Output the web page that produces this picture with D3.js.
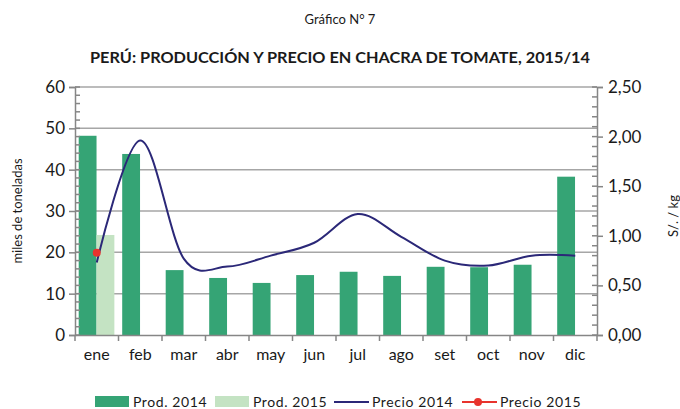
<!DOCTYPE html>
<meta charset="utf-8">

<style>
    body { margin: 0; background: #fff; }
    text { font-family: Lato, "Open Sans", sans-serif; fill: #1a1a1a; }
    .axis path, .axis line { fill: none; stroke: #868686; stroke-width: 1.5px; }
    .grid line { stroke: #a6a6a6; stroke-width: 1.5px; }
</style>

<svg width="680" height="409"></svg>

<script src="https://cdn.jsdelivr.net/npm/d3@7"></script>
<script>
    // datos
    var meses = ["ene", "feb", "mar", "abr", "may", "jun", "jul", "ago", "set", "oct", "nov", "dic"];
    var prod2014 = [48.2, 43.8, 15.7, 13.8, 12.6, 14.5, 15.3, 14.3, 16.5, 16.4, 17.0, 38.3];
    var prod2015 = [24.2];
    var precio2014 = [0.73, 1.96, 0.77, 0.69, 0.80, 0.93, 1.22, 0.99, 0.75, 0.70, 0.80, 0.80];
    var precio2015 = [0.83];
    var ticksIzq = [0, 10, 20, 30, 40, 50, 60];
    var ticksDer = [0, 0.5, 1, 1.5, 2, 2.5];

    (function () {
        var svg = d3.select("svg"),
            left = 75, right = 597, top = 87, bottom = 335,
            green = "#35a475", lightGreen = "#c4e3c3", navy = "#2b2878", red = "#e8332d";

        var x = d3.scaleBand().domain(meses).range([left, right]).padding(0),
            bw = x.bandwidth(),
            yL = d3.scaleLinear().domain([0, 60]).range([bottom, top]),
            yR = d3.scaleLinear().domain([0, 2.5]).range([bottom, top]);

        // titulos
        svg.append("text").attr("x", 340).attr("y", 24).attr("text-anchor", "middle")
            .style("font-size", "13px").text("Gráfico N° 7");
        svg.append("text").attr("x", 340).attr("y", 63).attr("text-anchor", "middle")
            .style("font-size", "15px").style("font-weight", "bold")
            .attr("textLength", 500).attr("lengthAdjust", "spacingAndGlyphs")
            .text("PERÚ: PRODUCCIÓN Y PRECIO EN CHACRA DE TOMATE, 2015/14");

        // grilla
        svg.append("g").attr("class", "grid").selectAll("line")
            .data(ticksIzq.slice(1)).enter().append("line")
            .attr("x1", left).attr("x2", right)
            .attr("y1", function (d) { return yL(d); })
            .attr("y2", function (d) { return yL(d); });

        // barras
        svg.append("g").selectAll("rect").data(prod2014).enter().append("rect")
            .attr("x", function (d, i) { return x(meses[i]) + bw * 0.085; })
            .attr("width", bw * 0.41)
            .attr("y", function (d) { return yL(d); })
            .attr("height", function (d) { return bottom - yL(d); })
            .attr("fill", green);
        svg.append("g").selectAll("rect").data(prod2015).enter().append("rect")
            .attr("x", function (d, i) { return x(meses[i]) + bw * 0.495; })
            .attr("width", bw * 0.41)
            .attr("y", function (d) { return yL(d); })
            .attr("height", function (d) { return bottom - yL(d); })
            .attr("fill", lightGreen);

        // ejes
        var axL = svg.append("g").attr("class", "axis")
            .attr("transform", "translate(" + left + ",0)")
            .call(d3.axisLeft(yL).tickValues(ticksIzq).tickSize(6).tickPadding(4).tickFormat(d3.format("d")));
        axL.append("g").selectAll("line").data(d3.range(0, 61, 2)).enter().append("line")
            .attr("x1", 0).attr("x2", 5)
            .attr("y1", function (d) { return yL(d); }).attr("y2", function (d) { return yL(d); });

        var axR = svg.append("g").attr("class", "axis")
            .attr("transform", "translate(" + right + ",0)")
            .call(d3.axisRight(yR).tickValues(ticksDer).tickSize(6).tickPadding(5)
                .tickFormat(function (d) { return d3.format(".2f")(d).replace(".", ","); }));
        axR.append("g").selectAll("line").data(d3.range(0, 26)).enter().append("line")
            .attr("x1", 0).attr("x2", -5)
            .attr("y1", function (d) { return yR(d / 10); }).attr("y2", function (d) { return yR(d / 10); });

        var axX = svg.append("g").attr("class", "axis")
            .attr("transform", "translate(0," + bottom + ")")
            .call(d3.axisBottom(x).tickSize(0).tickPadding(14));
        axX.append("g").selectAll("line").data(d3.range(0, 13)).enter().append("line")
            .attr("x1", function (d) { return left + d * bw; }).attr("x2", function (d) { return left + d * bw; })
            .attr("y1", 0).attr("y2", 6);

        svg.selectAll(".axis text").style("font-size", "17px").style("fill", "#1a1a1a")
            .style("font-family", "Lato, sans-serif");
        axX.selectAll("text").style("font-size", "16px");

        // titulos de ejes
        svg.append("text").attr("transform", "translate(22,211) rotate(-90)")
            .attr("text-anchor", "middle").style("font-size", "13px").text("miles de toneladas");
        svg.append("text").attr("transform", "translate(678,216) rotate(-90)")
            .attr("text-anchor", "middle").style("font-size", "13px").text("S/. / kg");

        // lineas de precio
        var cx = function (d, i) { return x(meses[i]) + bw / 2; };
        var line = d3.line().x(cx).y(function (d) { return yR(d); }).curve(d3.curveCatmullRom.alpha(0));
        svg.append("path").attr("d", line(precio2014))
            .attr("fill", "none").attr("stroke", navy).attr("stroke-width", 2);
        svg.selectAll(".p15").data(precio2015).enter().append("circle")
            .attr("cx", cx).attr("cy", function (d) { return yR(d); }).attr("r", 4).attr("fill", red);

        // leyenda
        var lg = svg.append("g").style("font-size", "14px");
        var items = [
            { t: "Prod. 2014", x: 95, tipo: "rect", c: green },
            { t: "Prod. 2015", x: 215, tipo: "rect", c: lightGreen },
            { t: "Precio 2014", x: 334, tipo: "line", c: navy },
            { t: "Precio 2015", x: 462, tipo: "dot", c: red }
        ];
        items.forEach(function (it) {
            if (it.tipo === "rect") {
                lg.append("rect").attr("x", it.x).attr("y", 396).attr("width", 34).attr("height", 11).attr("fill", it.c);
            } else {
                lg.append("line").attr("x1", it.x).attr("x2", it.x + 35).attr("y1", 402).attr("y2", 402)
                    .attr("stroke", it.c).attr("stroke-width", 2);
                if (it.tipo === "dot") lg.append("circle").attr("cx", it.x + 16).attr("cy", 402).attr("r", 4).attr("fill", it.c);
            }
            lg.append("text").attr("x", it.x + 38).attr("y", 407).style("letter-spacing", "0.6px").text(it.t);
        });
    })();
</script>
